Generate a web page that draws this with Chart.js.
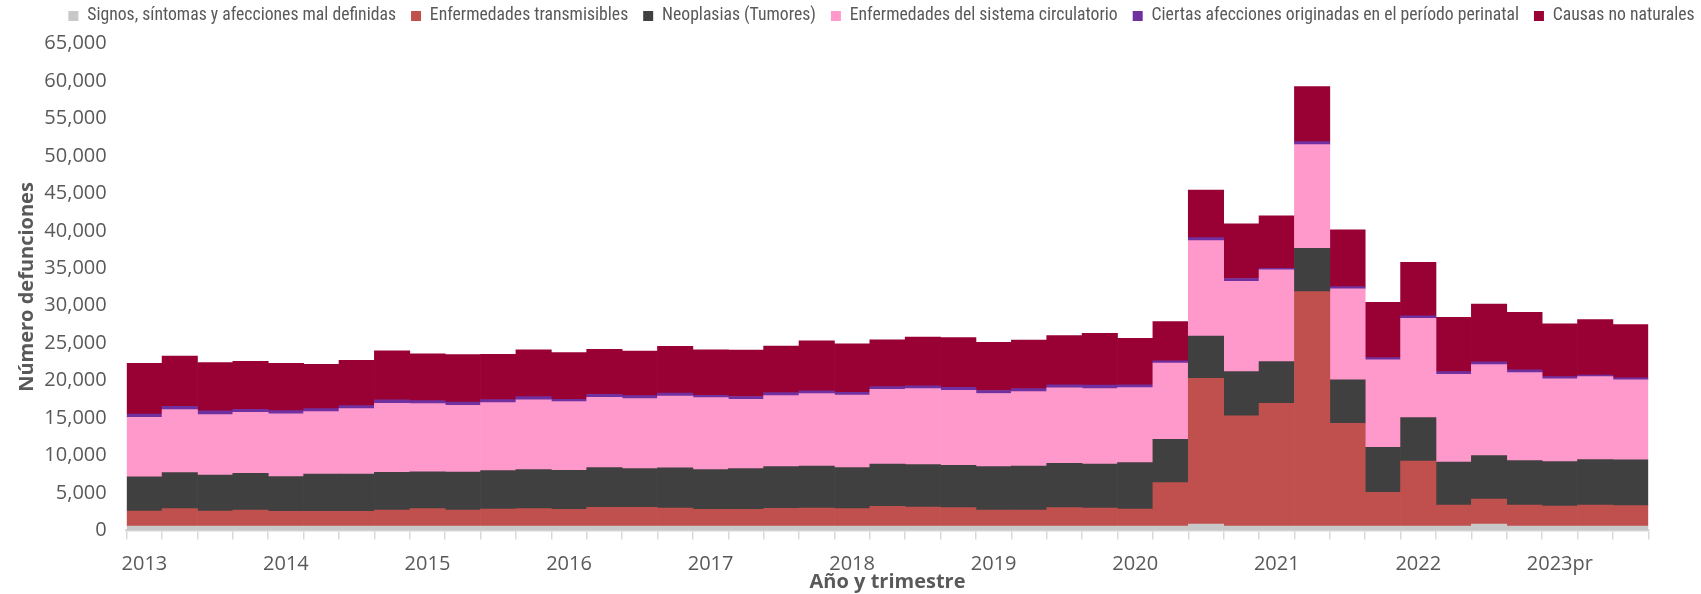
<!DOCTYPE html>
<html>
<head>
<meta charset="utf-8">
<script src="https://cdn.jsdelivr.net/npm/chart.js@4"></script>
<style>
  html, body { margin: 0; padding: 0; background: #fff; }
  #wrap { width: 1701px; height: 594px; }
</style>
</head>
<body>
<div id="wrap"><canvas id="chart"></canvas></div>
<script>
// Trimestres 2013-T1 ... 2023-T3
const periods = [
    '2013-T1', '2013-T2', '2013-T3', '2013-T4',
    '2014-T1', '2014-T2', '2014-T3', '2014-T4',
    '2015-T1', '2015-T2', '2015-T3', '2015-T4',
    '2016-T1', '2016-T2', '2016-T3', '2016-T4',
    '2017-T1', '2017-T2', '2017-T3', '2017-T4',
    '2018-T1', '2018-T2', '2018-T3', '2018-T4',
    '2019-T1', '2019-T2', '2019-T3', '2019-T4',
    '2020-T1', '2020-T2', '2020-T3', '2020-T4',
    '2021-T1', '2021-T2', '2021-T3', '2021-T4',
    '2022-T1', '2022-T2', '2022-T3', '2022-T4',
    '2023-T1', '2023-T2', '2023-T3'
];
const yearLabels = ['2013', '2014', '2015', '2016', '2017', '2018', '2019', '2020', '2021', '2022', '2023pr'];

const signos = [
    600, 600, 600, 600, 600, 600, 600, 600, 600, 600, 600, 600,
    600, 600, 600, 600, 600, 600, 600, 600, 600, 600, 600, 600,
    600, 600, 600, 600, 600, 600, 850, 600, 600, 600, 600, 600,
    600, 600, 850, 600, 600, 600, 600
];
const transmisibles = [
    2000, 2320, 2000, 2140, 1960, 1960, 1960, 2140, 2320, 2140, 2270, 2320,
    2230, 2490, 2490, 2400, 2230, 2230, 2360, 2400, 2320, 2630, 2540, 2450,
    2140, 2140, 2450, 2400, 2270, 5790, 19460, 14690, 16380, 31280, 13710, 4500,
    8680, 2800, 3360, 2800, 2670, 2800, 2720
];
const neoplasias = [
    4580, 4810, 4810, 4900, 4630, 4980, 4980, 5030, 4900, 5070, 5120, 5210,
    5210, 5300, 5160, 5380, 5300, 5430, 5560, 5610, 5470, 5650, 5650, 5650,
    5790, 5870, 5920, 5870, 6190, 5790, 5650, 5920, 5560, 5780, 5790, 6010,
    5790, 5720, 5790, 5920, 5920, 6050, 6100
];
const circulatorio = [
    7920, 8410, 8060, 8140, 8370, 8320, 8720, 9210, 9120, 8900, 9080, 9300,
    9170, 9390, 9350, 9570, 9610, 9260, 9480, 9660, 9700, 9970, 10150, 10010,
    9750, 9920, 10060, 10060, 10010, 10150, 12730, 12060, 12240, 13840, 12150, 11660,
    13260, 11730, 12150, 11750, 11040, 11080, 10680
];
const perinatal = [
    445, 445, 490, 400, 445, 400, 400, 445, 400, 445, 400, 445,
    310, 400, 400, 400, 310, 360, 400, 360, 360, 360, 360, 400,
    400, 400, 400, 490, 360, 310, 400, 360, 220, 400, 310, 310,
    310, 360, 360, 360, 310, 220, 270
];
const noNaturales = [
    6760, 6680, 6450, 6410, 6320, 5920, 6050, 6540, 6230, 6320, 6050, 6230,
    6230, 6010, 5960, 6230, 6050, 6190, 6230, 6680, 6450, 6230, 6500, 6630,
    6450, 6500, 6590, 6900, 6230, 5250, 6360, 7300, 6990, 7340, 7570, 7390,
    7160, 7250, 7700, 7700, 7030, 7390, 7120
];

const yTicks = { min: 0, max: 65000, step: 5000 };

const textColor = '#595959';
const axisGray = '#d9d9d9';

Chart.defaults.font.family = "'Open Sans', sans-serif";
Chart.defaults.color = textColor;

const series = [
    { label: 'Signos, síntomas y afecciones mal definidas', data: signos, color: '#c8c8c8' },
    { label: 'Enfermedades transmisibles', data: transmisibles, color: '#c0504d' },
    { label: 'Neoplasias (Tumores)', data: neoplasias, color: '#404040' },
    { label: 'Enfermedades del sistema circulatorio', data: circulatorio, color: '#ff99cc' },
    { label: 'Ciertas afecciones originadas en el período perinatal', data: perinatal, color: '#7030a0' },
    { label: 'Causas no naturales', data: noNaturales, color: '#990033' }
];

// la leyenda original usa una letra estrecha; se ajusta el tamaño al ancho del original
const legendFamily = "'Roboto Condensed', 'Liberation Sans Narrow', 'DejaVu Sans Condensed', 'Open Sans', sans-serif";
function legendFontSize() {
    const ctx = document.createElement('canvas').getContext('2d');
    ctx.font = '19px ' + legendFamily;
    const w = ctx.measureText(series[0].label).width;
    return Math.min(19, 19 * 309 / w);
}
const legendSize = legendFontSize();
const legendPad = 15;
const legendTop = 16 - legendPad - Math.max(legendSize, 10) / 2;
const legendWidth = 1760;
const legendCenter = 881.5;

// leyenda en una sola fila, centrada como en el original
const legendTweak = {
    id: 'legendTweak',
    beforeInit(chart) {
        const fit = chart.legend.fit;
        chart.legend.fit = function () {
            this.maxWidth = legendWidth;
            fit.bind(chart.legend)();
            this.height = 43.5 - legendTop;
        };
    },
    afterLayout(chart) {
        const lg = chart.legend;
        lg.left = legendCenter - legendWidth / 2;
        lg.right = legendCenter + legendWidth / 2;
        lg.width = legendWidth;
    }
};

new Chart(document.getElementById('chart'), {
    type: 'bar',
    data: {
        labels: periods,
        datasets: series.map(s => ({
            label: s.label,
            data: s.data,
            backgroundColor: s.color,
            borderWidth: 0,
            barPercentage: 1,
            categoryPercentage: 1
        }))
    },
    options: {
        responsive: true,
        maintainAspectRatio: false,
        animation: false,
        layout: {
            padding: { top: legendTop, left: 0, right: 52.7, bottom: 0 }
        },
        plugins: {
            legend: {
                position: 'top',
                labels: {
                    boxWidth: 10,
                    boxHeight: 10,
                    padding: legendPad,
                    color: textColor,
                    font: { size: legendSize, family: legendFamily }
                }
            },
            tooltip: { enabled: false }
        },
        scales: {
            x: {
                stacked: true,
                z: 1,
                afterFit: (scale) => { scale.height = 63.5; },
                grid: {
                    display: true,
                    drawOnChartArea: false,
                    drawTicks: true,
                    tickLength: 9,
                    color: axisGray,
                    lineWidth: 1.5
                },
                border: { display: true, color: axisGray, width: 2.5 },
                ticks: {
                    autoSkip: false,
                    maxRotation: 0,
                    padding: 12.5,
                    color: textColor,
                    font: { size: 20 },
                    callback: (value, index) => index % 4 === 0 ? yearLabels[index / 4] : ''
                },
                title: {
                    display: true,
                    text: 'Año y trimestre',
                    color: textColor,
                    font: { size: 20, weight: 'bold' },
                    padding: { top: 0, bottom: 0 }
                }
            },
            y: {
                stacked: true,
                min: yTicks.min,
                max: yTicks.max,
                afterFit: (scale) => { scale.width = 126.7; },
                grid: { display: false, drawTicks: false },
                border: { display: false },
                ticks: {
                    stepSize: yTicks.step,
                    padding: 20,
                    color: textColor,
                    font: { size: 20 },
                    callback: (value) => value.toLocaleString('en-US')
                },
                title: {
                    display: true,
                    text: 'Número defunciones',
                    color: textColor,
                    font: { size: 20, weight: 'bold' },
                    padding: { top: 15, bottom: 0 }
                }
            }
        }
    },
    plugins: [legendTweak]
});
</script>
</body>
</html>
